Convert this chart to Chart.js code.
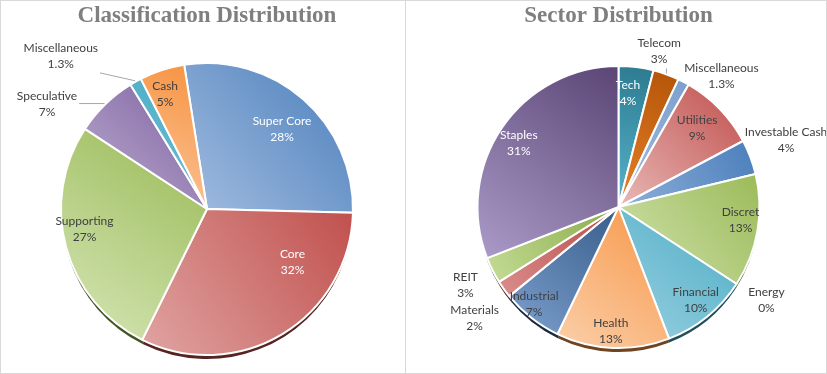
<!DOCTYPE html>
<html><head><meta charset="utf-8">
<script src="https://cdn.jsdelivr.net/npm/chart.js@4/dist/chart.umd.min.js"></script>
<style>
html,body{margin:0;padding:0;background:#fff;}
#frame{position:absolute;left:0;top:0;width:825px;height:372px;border:1px solid #d9d9d9;}
#divider{position:absolute;left:405px;top:0;width:1px;height:374px;background:#d9d9d9;}
#c1{position:absolute;left:1px;top:1px;}
#c2{position:absolute;left:406px;top:1px;}
</style></head><body>
<div id="frame"></div><div id="divider"></div>
<canvas id="c1" width="404" height="372"></canvas>
<canvas id="c2" width="420" height="372"></canvas>
<script>
// ---------- data ----------
const classTitle = 'Classification Distribution';
const classLabels = ['Super Core', 'Core', 'Supporting', 'Speculative', 'Miscellaneous', 'Cash'];
const classValues = [28, 32, 27, 7, 1.3, 5];

const sectorTitle = 'Sector Distribution';
const sectorLabels = ['Tech', 'Telecom', 'Miscellaneous', 'Utilities', 'Investable Cash', 'Discret',
  'Energy', 'Financial', 'Health', 'Industrial', 'Materials', 'REIT', 'Staples'];
const sectorValues = [4, 3, 1.3, 9, 4, 13, 0, 10, 13, 7, 2, 3, 31];

// ---------- styles ----------
const classColors = [['#4a7ebb','#a3bde0'],['#c0504d','#e0a4a2'],['#98b954','#d6e6b7'],
  ['#7d5f9f','#bcaed0'],['#4bacc6','#6fc0d5'],['#f69240','#fcc79d']];
const sectorColors = [['#2c7a8f','#56b3cb'],['#b35407','#e8802a'],['#7c9fcc','#a2bde0'],
  ['#c0504d','#e8b8b6'],['#4a7ebb','#8fb0da'],['#9bbb59','#d1e2ae'],['#4bacc6','#4bacc6'],
  ['#4bacc6','#9ad0e0'],['#f79646','#fbcfaa'],['#385d8a','#7da0cf'],['#b84b48','#da8e8c'],
  ['#8aab4a','#c4dc95'],['#5a4575','#ab9bc9']];
// label placement: [radius factor, angle shift (deg) from slice middle]
const classPlace = [[0.75,2],[0.69,-27],[0.85,6],[1.31,-12.6],[1.45,-14.4],[0.84,-2]];
const classLabelColor = ['#ffffff','#ffffff','#404040','#404040','#404040','#404040'];
const classLeader = [false,false,false,true,true,false];
const sectorPlace = [[0.81,-2.4],[1.14,-5.1],[1.18,10.8],[0.79,-1.1],[1.28,-1.1],[0.87,-3.7],
  [1.24,-0.9],[0.86,-0.6],[0.88,1.2],[0.91,2.9],[1.29,-2.1],[1.22,-0.5],[0.84,-1.7]];
const sectorLabelColor = ['#ffffff','#404040','#404040','#404040','#404040','#404040','#404040',
  '#404040','#404040','#404040','#404040','#404040','#ffffff'];
const sectorLeader = [false,true,true,false,true,false,false,false,false,false,false,false,false];

function darken(hex, k){
  const n = parseInt(hex.slice(1),16);
  const r = Math.round(((n>>16)&255)*k), g = Math.round(((n>>8)&255)*k), b = Math.round((n&255)*k);
  return 'rgb('+r+','+g+','+b+')';
}

function gradientFill(colors, rotationDeg, radius){
  return function(c){
    const chart = c.chart, ca = chart.chartArea;
    const pair = colors[c.dataIndex];
    if (!ca) return pair[0];
    const data = c.dataset.data;
    const total = data.reduce((a,b)=>a+b,0);
    let cum = 0;
    for (let k=0;k<c.dataIndex;k++) cum += data[k];
    const base = -Math.PI/2 + rotationDeg*Math.PI/180;
    const a0 = base + 2*Math.PI*cum/total;
    const a1 = base + 2*Math.PI*(cum+data[c.dataIndex])/total;
    const cx = (ca.left+ca.right)/2, cy = (ca.top+ca.bottom)/2;
    let minX=cx,maxX=cx,minY=cy,maxY=cy;
    for (let s=0;s<=24;s++){
      const a = a0 + (a1-a0)*s/24;
      const x = cx+Math.cos(a)*radius, y = cy+Math.sin(a)*radius;
      minX=Math.min(minX,x);maxX=Math.max(maxX,x);minY=Math.min(minY,y);maxY=Math.max(maxY,y);
    }
    const g = chart.ctx.createLinearGradient(maxX, minY, minX, maxY);
    g.addColorStop(0, pair[0]);
    g.addColorStop(1, pair[1]);
    return g;
  };
}

const pieDeco = {
  id: 'pieDeco',
  beforeDatasetsDraw(chart, args, opts){
    const ctx = chart.ctx;
    const meta = chart.getDatasetMeta(0);
    ctx.save();
    meta.data.forEach((arc,i)=>{
      const p = arc.getProps(['x','y','startAngle','endAngle','outerRadius'], true);
      if (p.endAngle - p.startAngle <= 0) return;
      ctx.beginPath();
      ctx.moveTo(p.x, p.y+opts.shadowDy);
      ctx.arc(p.x, p.y+opts.shadowDy, p.outerRadius-1, p.startAngle, p.endAngle);
      ctx.closePath();
      ctx.fillStyle = darken(opts.colors[i][0], 0.45);
      ctx.fill();
    });
    ctx.restore();
  },
  afterDatasetsDraw(chart, args, opts){
    const ctx = chart.ctx;
    const meta = chart.getDatasetMeta(0);
    const vals = chart.data.datasets[0].data;
    ctx.save();
    ctx.font = '12px Lato';
    ctx.textAlign = 'center';
    ctx.textBaseline = 'middle';
    meta.data.forEach((arc,i)=>{
      const p = arc.getProps(['x','y','startAngle','endAngle','outerRadius'], true);
      const mid = (p.startAngle+p.endAngle)/2;
      const pl = opts.place[i];
      const a = mid + pl[1]*Math.PI/180;
      const lx = p.x + Math.cos(a)*p.outerRadius*pl[0];
      const ly = p.y + Math.sin(a)*p.outerRadius*pl[0];
      const name = chart.data.labels[i];
      const val = vals[i] + '%';
      if (opts.leader[i]){
        const ex = p.x + Math.cos(mid)*(p.outerRadius+1);
        const ey = p.y + Math.sin(mid)*(p.outerRadius+1);
        const hw = Math.max(ctx.measureText(name).width, ctx.measureText(val).width)/2 + 2;
        const hh = 17;
        const nx = Math.min(Math.max(ex, lx-hw), lx+hw);
        const ny = Math.min(Math.max(ey, ly-hh), ly+hh);
        if (Math.hypot(nx-ex, ny-ey) > 3){
          ctx.beginPath();
          ctx.moveTo(ex, ey); ctx.lineTo(nx, ny);
          ctx.strokeStyle = '#a6a6a6'; ctx.lineWidth = 1;
          ctx.stroke();
        }
      }
      ctx.fillStyle = opts.labelColor[i];
      ctx.fillText(name, lx, ly-8);
      ctx.fillText(val, lx, ly+8);
    });
    ctx.restore();
  }
};

function makePie(id, title, labels, values, colors, rotation, radius, pad, titlePadBottom, place, labelColor, leader){
  return new Chart(document.getElementById(id), {
    type: 'pie',
    data: {
      labels: labels,
      datasets: [{
        data: values,
        backgroundColor: gradientFill(colors, rotation, radius),
        borderColor: '#ffffff',
        borderWidth: 2
      }]
    },
    options: {
      responsive: false,
      animation: false,
      rotation: rotation,
      radius: radius,
      layout: { padding: pad },
      events: [],
      plugins: {
        legend: { display: false },
        tooltip: { enabled: false },
        title: {
          display: true,
          text: title,
          color: '#7f7f7f',
          font: { family: '"Liberation Serif", "DejaVu Serif", serif', size: 23, weight: 'bold', lineHeight: 1.2 },
          padding: { top: 1, bottom: titlePadBottom }
        },
        pieDeco: { colors: colors, shadowDy: 5, place: place, labelColor: labelColor, leader: leader }
      }
    },
    plugins: [pieDeco]
  });
}

makePie('c1', classTitle, classLabels, classValues, classColors, -9, 146,
  { left: 8, right: 0, top: 0, bottom: 2 }, 17.4, classPlace, classLabelColor, classLeader);
makePie('c2', sectorTitle, sectorLabels, sectorValues, sectorColors, 0, 141,
  { left: 5, right: 0, top: 0, bottom: 2 }, 13.4, sectorPlace, sectorLabelColor, sectorLeader);
</script>
</body></html>
